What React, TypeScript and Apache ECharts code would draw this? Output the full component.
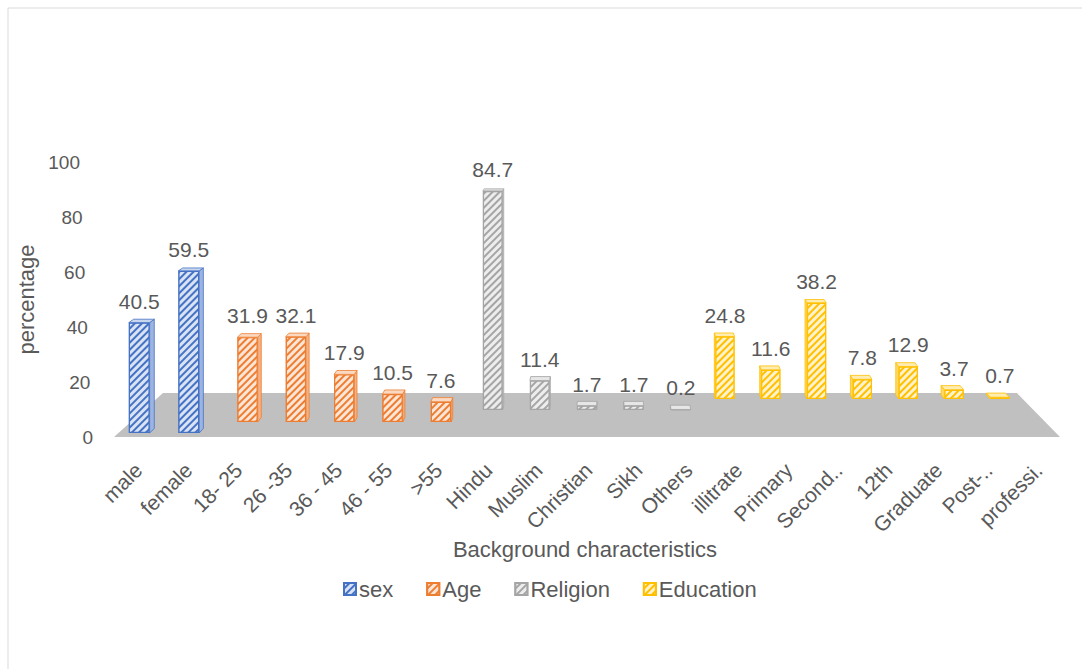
import React, { useEffect, useRef } from "react";
import * as echarts from "echarts";

const sexCategories = ["male", "female"];
const sexValues = [40.5, 59.5];
const ageCategories = ["18- 25", "26 -35", "36 - 45", "46 - 55", ">55"];
const ageValues = [31.9, 32.1, 17.9, 10.5, 7.6];
const religionCategories = ["Hindu", "Muslim", "Christian", "Sikh", "Others"];
const religionValues = [84.7, 11.4, 1.7, 1.7, 0.2];
const educationCategories = ["illitrate", "Primary", "Second..", "12th", "Graduate", "Post-..", "professi."];
const educationValues = [24.8, 11.6, 38.2, 7.8, 12.9, 3.7, 0.7];

const seriesNames = ["sex", "Age", "Religion", "Education"];
const seriesColors = ["#4472C4", "#ED7D31", "#A5A5A5", "#FFC000"];
const topColors = ["#c9d6ee", "#fad9c3", "#e6e6e6", "#ffecb0"];
const sideColors = ["#9db4e0", "#f4b183", "#cfcfcf", "#ffd966"];

const groups = [
  { cats: sexCategories, vals: sexValues },
  { cats: ageCategories, vals: ageValues },
  { cats: religionCategories, vals: religionValues },
  { cats: educationCategories, vals: educationValues },
];
const categories = groups.flatMap((g) => g.cats);

// layout (perspective)
const VX = 615;
const VY = -17;
const FRONT_Y = 437;
const LEFT = 110;
const RIGHT = 1060;
const FULL_H = 275;
const ROW_BASE = [433, 422, 410, 399];
const BACK_Y = 393;
const DEPTH_R = 0.99;
const FONT = "'Liberation Sans', Arial, sans-serif";
const TXT = "#595959";

const scaleAt = (y: number) => (y - VY) / (FRONT_Y - VY);

export default function App() {
  const ref = useRef<HTMLDivElement>(null);
  useEffect(() => {
    if (!ref.current) return;
    const chart = echarts.init(ref.current, undefined, { renderer: "svg" });

    const grids: any[] = [
      { left: LEFT, width: RIGHT - LEFT, top: FRONT_Y - FULL_H, height: FULL_H },
    ];
    const xAxes: any[] = [
      {
        type: "category",
        gridIndex: 0,
        data: categories,
        axisLine: { show: false },
        axisTick: { show: false },
        axisLabel: {
          interval: 0,
          rotate: 45,
          margin: 33,
          fontSize: 21,
          color: TXT,
          fontFamily: FONT,
          padding: [0, -5, 0, 0],
        },
        name: "Background characteristics",
        nameLocation: "middle",
        nameGap: 99,
        nameTextStyle: { fontSize: 22, color: TXT, fontFamily: FONT },
      },
    ];
    const yTickVals = [0, 20, 40, 60, 80, 100];
    const rich: any = {};
    yTickVals.forEach((v) => {
      rich["v" + v] = {
        fontSize: 19,
        color: TXT,
        fontFamily: FONT,
        padding: [0, (13 * v) / 100, 0, 0],
      };
    });
    const yAxes: any[] = [
      {
        type: "value",
        gridIndex: 0,
        min: 0,
        max: 100,
        interval: 20,
        axisLine: { show: false },
        axisTick: { show: false },
        splitLine: { show: false },
        axisLabel: {
          margin: 17,
          formatter: (v: number) => `{v${v}|${v}}`,
          rich,
        },
        name: "percentage",
        nameLocation: "middle",
        nameRotate: 90,
        nameGap: 73,
        nameTextStyle: { fontSize: 22, color: TXT, fontFamily: FONT },
      },
    ];
    const series: any[] = [];
    const customSeries: any[] = [];

    groups.forEach((g, d) => {
      const base = ROW_BASE[d];
      const s = scaleAt(base);
      const gi = d + 1;
      grids.push({
        left: VX + (LEFT - VX) * s,
        width: (RIGHT - LEFT) * s,
        top: base - FULL_H * s,
        height: FULL_H * s,
      });
      xAxes.push({ type: "category", gridIndex: gi, data: categories, show: false });
      yAxes.push({ type: "value", gridIndex: gi, min: 0, max: 100, show: false });
      const data = categories.map((c) => {
        const k = g.cats.indexOf(c);
        return k >= 0 ? g.vals[k] : "-";
      });
      const barW = 21 * s;
      series.push({
        name: seriesNames[d],
        type: "bar",
        xAxisIndex: gi,
        yAxisIndex: gi,
        data,
        barWidth: barW,
        z: 3,
        itemStyle: {
          color: seriesColors[d],
          borderColor: seriesColors[d],
          borderWidth: 1.2,
          decal: {
            symbol: "rect",
            symbolSize: 1,
            dashArrayX: [1, 0],
            dashArrayY: [3, 1.5],
            rotation: -Math.PI / 4,
            color: "rgba(255,255,255,0.8)",
          },
        },
        label: {
          show: true,
          position: "top",
          distance: 11,
          fontSize: 21,
          color: TXT,
          fontFamily: FONT,
        },
      });
      const cdata = g.cats.map((c, k) => [categories.indexOf(c), g.vals[k]]);
      customSeries.push({
        name: seriesNames[d] + " depth",
        type: "custom",
        xAxisIndex: gi,
        yAxisIndex: gi,
        data: cdata,
        z: 4,
        silent: true,
        clip: false,
        encode: { x: 0, y: 1 },
        renderItem: (params: any, api: any) => {
          const i = api.value(0);
          const v = api.value(1);
          const top = api.coord([i, v]);
          const bot = api.coord([i, 0]);
          const xl = top[0] - barW / 2;
          const xr = top[0] + barW / 2;
          const yt = top[1];
          const yb = bot[1];
          const bx = (x: number) => VX + (x - VX) * DEPTH_R;
          const by = (y: number) => VY + (y - VY) * DEPTH_R;
          const sideX = top[0] < VX ? xr : xl;
          return {
            type: "group",
            children: [
              {
                type: "polygon",
                shape: {
                  points: [
                    [sideX, yt],
                    [bx(sideX), by(yt)],
                    [bx(sideX), by(yb)],
                    [sideX, yb],
                  ],
                },
                style: { fill: sideColors[d], stroke: seriesColors[d], lineWidth: 0.8 },
              },
              {
                type: "polygon",
                shape: {
                  points: [
                    [xl, yt],
                    [xr, yt],
                    [bx(xr), by(yt)],
                    [bx(xl), by(yt)],
                  ],
                },
                style: { fill: topColors[d], stroke: seriesColors[d], lineWidth: 0.8 },
              },
            ],
          };
        },
      });
    });

    const sb = scaleAt(BACK_Y);
    const option: any = {
      animation: false,
      textStyle: { fontFamily: FONT },
      grid: grids,
      xAxis: xAxes,
      yAxis: yAxes,
      legend: {
        data: seriesNames,
        left: 338,
        top: 573,
        icon: "rect",
        itemWidth: 12,
        itemHeight: 12,
        itemGap: 33,
        textStyle: { fontSize: 22, color: TXT, fontFamily: FONT, padding: [0, 0, 0, -2] },
      },
      graphic: [
        {
          type: "rect",
          shape: { x: 8, y: 8, width: 1090, height: 680 },
          style: { fill: "none", stroke: "#d9d9d9", lineWidth: 1 },
          z: 0,
          silent: true,
        },
        {
          type: "polygon",
          shape: {
            points: [
              [114, FRONT_Y],
              [RIGHT, FRONT_Y],
              [VX + (RIGHT - VX) * sb, BACK_Y],
              [VX + (LEFT - VX) * sb + 4, BACK_Y],
            ],
          },
          style: { fill: "#c0c0c0" },
          z: 0,
          silent: true,
        },
      ],
      series: [...series, ...customSeries],
    };
    chart.setOption(option);
    return () => chart.dispose();
  }, []);
  return (
    <div
      ref={ref}
      style={{ position: "absolute", left: 0, top: 0, width: 1082, height: 669 }}
    />
  );
}
